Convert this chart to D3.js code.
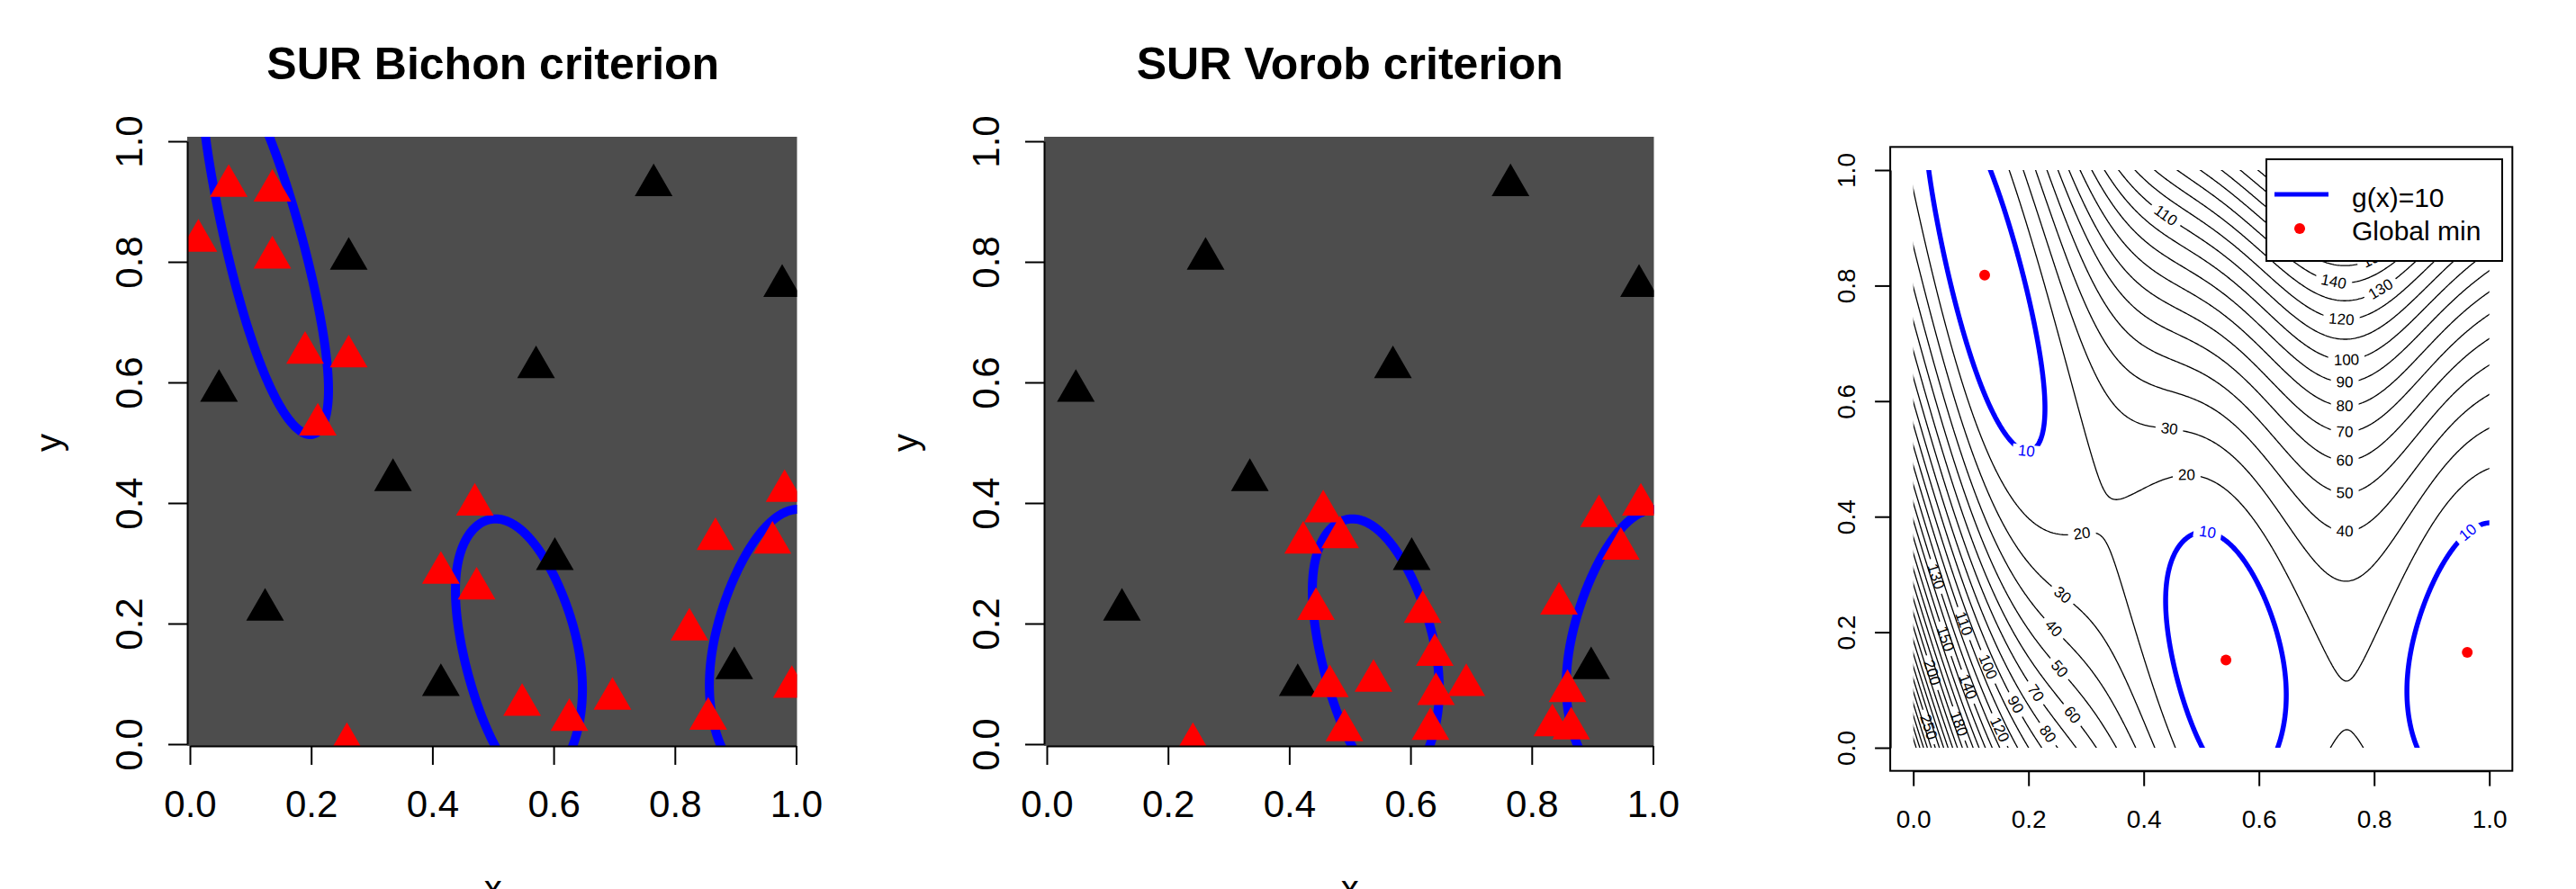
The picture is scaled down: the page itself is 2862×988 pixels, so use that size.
<!DOCTYPE html>
<html>
<head>
<meta charset="utf-8">
<script src="https://cdn.jsdelivr.net/npm/d3@7"></script>
<style>
  body { margin: 0; background: #fff; }
  svg { display: block; font-family: "Liberation Sans", Arial, sans-serif; }
</style>
</head>
<body>
<svg id="chart"></svg>
<script>
const width = 2862;
const height = 988;

// ticks and texts
const unitTicks = [0, 0.2, 0.4, 0.6, 0.8, 1.0];
const panelTitles = ["SUR Bichon criterion", "SUR Vorob criterion"];
const legendLabels = ["g(x)=10", "Global min"];

// initial design (black triangles), same in both panels
const initX = [0.765, 0.262, 0.977, 0.048, 0.571, 0.335, 0.124, 0.602, 0.414, 0.898];
const initY = [0.927, 0.805, 0.760, 0.586, 0.625, 0.438, 0.223, 0.307, 0.098, 0.126];

// points added by SUR Bichon (red)
const bichonX = [0.014, 0.064, 0.136, 0.136, 0.190, 0.262, 0.211, 0.470, 0.414, 0.473,
                 0.867, 0.981, 0.961, 0.824, 0.993, 0.548, 0.626, 0.697, 0.855, 0.259];
const bichonY = [0.835, 0.926, 0.918, 0.807, 0.649, 0.643, 0.530, 0.397, 0.284, 0.258,
                 0.340, 0.420, 0.334, 0.190, 0.095, 0.065, 0.040, 0.075, 0.042, 0.000];

// points added by SUR Vorob (red)
const vorobX = [0.241, 0.456, 0.423, 0.484, 0.444, 0.620, 0.640, 0.467, 0.539, 0.642,
                0.692, 0.491, 0.633, 0.845, 0.859, 0.834, 0.865, 0.911, 0.947, 0.980];
const vorobY = [0.000, 0.386, 0.334, 0.343, 0.224, 0.219, 0.148, 0.096, 0.105, 0.083,
                0.098, 0.023, 0.025, 0.233, 0.088, 0.031, 0.026, 0.378, 0.324, 0.397];

// global minima (red dots)
const minX = [0.1239, 0.5428, 0.9617];
const minY = [0.8183, 0.1517, 0.1650];

// contour levels
const blueLevel = 10;
const blackLevels = [20, 30, 40, 50, 60, 70, 80, 90, 100, 110, 120, 130, 140, 150, 160,
                     170, 180, 190, 200, 210, 220, 230, 240, 250, 260, 270, 280, 290, 300];

// contour labels: level and approximate place
const labelLevels = [10, 10, 10, 20, 20, 30, 40, 50, 60, 70, 80, 90, 100, 110, 120, 130, 140, 150,
                     30, 40, 50, 60, 70, 80, 90, 100, 110, 120, 130, 140, 150, 180, 200, 250];
const labelU = [0.190, 0.510, 0.972, 0.475, 0.293, 0.444, 0.749, 0.749, 0.749, 0.749, 0.749, 0.749, 0.752, 0.436, 0.743, 0.815, 0.729, 0.807,
                0.259, 0.244, 0.254, 0.275, 0.2125, 0.231, 0.176, 0.127, 0.085, 0.147, 0.035, 0.093, 0.054, 0.074, 0.030, 0.033];
const labelV = [0.500, 0.363, 0.357, 0.462, 0.365, 0.547, 0.372, 0.439, 0.495, 0.543, 0.586, 0.628, 0.670, 0.918, 0.739, 0.788, 0.804, 0.837,
                0.264, 0.207, 0.137, 0.056, 0.095, 0.022, 0.074, 0.139, 0.214, 0.030, 0.295, 0.105, 0.188, 0.040, 0.129, 0.038];

// Branin function on the unit square
const brA = 1, brB = 5.1 / (4 * Math.PI * Math.PI), brC = 5 / Math.PI;
const brR = 6, brS = 10, brT = 1 / (8 * Math.PI);
function branin(u, v) {
  const x1 = 15 * u - 5, x2 = 15 * v;
  const q = x2 - brB * x1 * x1 + brC * x1 - brR;
  return brA * q * q + brS * (1 - brT) * Math.cos(x1) + brS;
}

// grid a little larger than [0,1]^2, cut back with clip paths
const step = 0.0025, gridPad = 0.03;
const n = Math.round((1 + 2 * gridPad) / step) + 1;
const grid = new Float64Array(n * n);
const negGrid = new Float64Array(n * n);
for (let j = 0; j < n; j++) {
  for (let i = 0; i < n; i++) {
    const val = branin(-gridPad + i * step, -gridPad + j * step);
    grid[j * n + i] = val;
    negGrid[j * n + i] = -val;
  }
}
const toUnit = c => -gridPad + (c - 0.5) * step;

function gridPath(xs, ys) {
  return d3.geoPath(d3.geoTransform({
    point(cx, cy) { this.stream.point(xs(toUnit(cx)), ys(toUnit(cy))); }
  }));
}

// basins below g = 10
const basins = d3.contours().size([n, n]).thresholds([-blueLevel])(negGrid)[0];
const ringMeanV = ring => toUnit(d3.mean(ring, p => p[1]));
const blackContours = d3.contours().size([n, n]).thresholds(blackLevels)(grid);

// open lines of the g = 10 contour (inside the square, no corner speck)
function inShownArea(u, v) {
  if (u < -0.01 || u > 1.01 || v < -0.01 || v > 1.01) return false;
  return !(u > 0.98 && v < 0.03);
}
function basinLines(keepBasin) {
  const lines = [];
  basins.coordinates.forEach(poly => {
    if (!keepBasin(ringMeanV(poly[0]))) return;
    poly.forEach(ring => {
      let cur = [];
      ring.forEach(pt => {
        if (inShownArea(toUnit(pt[0]), toUnit(pt[1]))) cur.push(pt);
        else { if (cur.length > 1) lines.push(cur); cur = []; }
      });
      if (cur.length > 1) lines.push(cur);
    });
  });
  return { type: "MultiLineString", coordinates: lines };
}

const svg = d3.select("#chart").attr("width", width).attr("height", height);
svg.append("rect").attr("width", width).attr("height", height).attr("fill", "#fff");
const defs = svg.append("defs");

const tri = d3.symbol(d3.symbolTriangle, 761);
const fmt = d3.format(".1f");

function styleAxis(g, fs) {
  g.attr("font-family", null).attr("font-size", null);
  g.select(".domain").attr("stroke", "#000").attr("stroke-width", 2);
  g.selectAll(".tick line").attr("stroke", "#000").attr("stroke-width", 2);
  g.selectAll(".tick text").attr("fill", "#000").attr("font-size", fs);
}

function drawAxes(xs, ys, o) {
  const xa = svg.append("g")
    .attr("transform", `translate(0,${o.xAxisY})`)
    .call(d3.axisBottom(xs).tickValues(unitTicks).tickFormat(fmt).tickSize(o.tick).tickSizeOuter(0));
  styleAxis(xa, o.fs);
  xa.selectAll(".tick text").attr("y", o.xLab).attr("dy", 0);

  const ya = svg.append("g")
    .attr("transform", `translate(${o.yAxisX},0)`)
    .call(d3.axisLeft(ys).tickValues(unitTicks).tickFormat(fmt).tickSize(o.tick).tickSizeOuter(0));
  styleAxis(ya, o.fs);
  ya.selectAll(".tick text")
    .attr("x", 0).attr("y", 0).attr("dy", 0)
    .attr("text-anchor", "middle")
    .attr("transform", `translate(${-o.yLab},0) rotate(-90)`);
}

// ---------- panels 1 and 2 ----------
const ysDesign = d3.scaleLinear().domain([0, 1]).range([827, 157]);
const designPanels = [
  { title: panelTitles[0], xs: d3.scaleLinear().domain([0, 1]).range([211, 884.5]),
    redX: bichonX, redY: bichonY, keep: v => true },
  { title: panelTitles[1], xs: d3.scaleLinear().domain([0, 1]).range([1163, 1836.5]),
    redX: vorobX, redY: vorobY, keep: v => v < 0.5 }
];

designPanels.forEach((p, k) => {
  const xs = p.xs, ys = ysDesign;
  const left = xs(0) - 3, right = xs(1) + 1, top = ys(1) - 5, bottom = ys(0) + 2;

  defs.append("clipPath").attr("id", "clip-design-" + k)
    .append("rect").attr("x", left).attr("y", top)
    .attr("width", right - left).attr("height", bottom - top);

  svg.append("rect")
    .attr("x", left).attr("y", top)
    .attr("width", right - left).attr("height", bottom - top)
    .attr("fill", "#4d4d4d");

  const inner = svg.append("g").attr("clip-path", `url(#clip-design-${k})`);

  inner.append("path")
    .datum(basinLines(p.keep))
    .attr("d", gridPath(xs, ys))
    .attr("fill", "none")
    .attr("stroke", "#0000ff")
    .attr("stroke-width", 10)
    .attr("stroke-linejoin", "round");

  inner.selectAll(".init")
    .data(d3.range(initX.length))
    .join("path")
    .attr("class", "init")
    .attr("transform", i => `translate(${xs(initX[i])},${ys(initY[i])})`)
    .attr("d", tri)
    .attr("fill", "#000");

  inner.selectAll(".added")
    .data(d3.range(p.redX.length))
    .join("path")
    .attr("class", "added")
    .attr("transform", i => `translate(${xs(p.redX[i])},${ys(p.redY[i])})`)
    .attr("d", tri)
    .attr("fill", "#ff0000");

  drawAxes(xs, ys, { xAxisY: bottom, yAxisX: left, tick: 21, fs: 42, xLab: 79, yLab: 50 });

  const cx = (xs(0) + xs(1)) / 2;
  svg.append("text")
    .attr("x", cx).attr("y", 88)
    .attr("text-anchor", "middle")
    .attr("font-size", 50).attr("font-weight", "bold")
    .text(p.title);

  svg.append("text")
    .attr("x", cx).attr("y", 1001)
    .attr("text-anchor", "middle")
    .attr("font-size", 40)
    .text("x");

  svg.append("text")
    .attr("text-anchor", "middle")
    .attr("font-size", 40)
    .attr("transform", `translate(${left - 140},${(ys(0) + ys(1)) / 2}) rotate(-90)`)
    .text("y");
});

// ---------- panel 3: contour plot ----------
const xs3 = d3.scaleLinear().domain([0, 1]).range([2125.7, 2765.7]);
const ys3 = d3.scaleLinear().domain([0, 1]).range([831, 189]);
const sx3 = xs3(1) - xs3(0), sy3 = ys3(0) - ys3(1);
const path3 = gridPath(xs3, ys3);

function gradient(u, v) {
  const h = 1e-5;
  return [(branin(u + h, v) - branin(u - h, v)) / (2 * h),
          (branin(u, v + h) - branin(u, v - h)) / (2 * h)];
}

// put each label back on its line and turn it along the line
const labels = labelLevels.map((level, i) => {
  let u = labelU[i], v = labelV[i];
  for (let k = 0; k < 10; k++) {
    const [fu, fv] = gradient(u, v);
    const d = (branin(u, v) - level) / (fu * fu + fv * fv);
    u -= d * fu; v -= d * fv;
  }
  const [fu, fv] = gradient(u, v);
  let angle = Math.atan2(fu / sx3, fv / sy3) * 180 / Math.PI;
  if (angle > 90) angle -= 180;
  if (angle <= -90) angle += 180;
  return { level, x: xs3(u), y: ys3(v), angle };
});

defs.append("clipPath").attr("id", "clip-contour")
  .append("rect").attr("x", xs3(0)).attr("y", ys3(1))
  .attr("width", sx3).attr("height", sy3);

const contourG = svg.append("g").attr("clip-path", "url(#clip-contour)");
const labelG = svg.append("g");

labelG.selectAll("text")
  .data(labels)
  .join("text")
  .attr("text-anchor", "middle")
  .attr("dominant-baseline", "central")
  .attr("font-size", 17)
  .attr("fill", d => d.level === blueLevel ? "#0000ff" : "#000")
  .attr("transform", d => `translate(${d.x},${d.y}) rotate(${d.angle})`)
  .text(d => d.level)
  .each(function(d) { d.w = this.getComputedTextLength(); });

function gapMask(level) {
  const labs = labels.filter(d => d.level === level);
  if (!labs.length) return null;
  const id = "gap-" + level;
  const m = defs.append("mask").attr("id", id)
    .attr("maskUnits", "userSpaceOnUse")
    .attr("x", 0).attr("y", 0).attr("width", width).attr("height", height);
  m.append("rect").attr("width", width).attr("height", height).attr("fill", "#fff");
  labs.forEach(d => {
    m.append("rect")
      .attr("x", -(d.w + 12) / 2).attr("y", -7)
      .attr("width", d.w + 12).attr("height", 14)
      .attr("fill", "#000")
      .attr("transform", `translate(${d.x},${d.y}) rotate(${d.angle})`);
  });
  return `url(#${id})`;
}

blackContours.forEach(c => {
  contourG.append("path")
    .datum(c)
    .attr("d", path3)
    .attr("fill", "none")
    .attr("stroke", "#000")
    .attr("stroke-width", 1.3)
    .attr("mask", gapMask(c.value));
});

contourG.append("path")
  .datum(basinLines(v => true))
  .attr("d", path3)
  .attr("fill", "none")
  .attr("stroke", "#0000ff")
  .attr("stroke-width", 5.5)
  .attr("stroke-linejoin", "round")
  .attr("mask", gapMask(blueLevel));

labelG.raise();

svg.selectAll(".gmin")
  .data(d3.range(minX.length))
  .join("circle")
  .attr("class", "gmin")
  .attr("cx", i => xs3(minX[i]))
  .attr("cy", i => ys3(minY[i]))
  .attr("r", 6)
  .attr("fill", "#ff0000");

// frame (R adds 4% on each side)
const fx0 = xs3(-0.04), fx1 = xs3(1.04), fy0 = ys3(1.04), fy1 = ys3(-0.04);
svg.append("rect")
  .attr("x", fx0).attr("y", fy0)
  .attr("width", fx1 - fx0).attr("height", fy1 - fy0)
  .attr("fill", "none").attr("stroke", "#000").attr("stroke-width", 2);

drawAxes(xs3, ys3, { xAxisY: fy1, yAxisX: fx0, tick: 17, fs: 28, xLab: 63, yLab: 39 });

// legend
const legend = svg.append("g").attr("transform", "translate(2518,177)");
legend.append("rect")
  .attr("width", 262).attr("height", 113)
  .attr("fill", "#fff").attr("stroke", "#000").attr("stroke-width", 2);
legend.append("line")
  .attr("x1", 9).attr("x2", 69).attr("y1", 39).attr("y2", 39)
  .attr("stroke", "#0000ff").attr("stroke-width", 5);
legend.append("circle")
  .attr("cx", 37).attr("cy", 77).attr("r", 6).attr("fill", "#ff0000");
legend.selectAll(".lt")
  .data(legendLabels)
  .join("text")
  .attr("class", "lt")
  .attr("x", 95)
  .attr("y", (d, i) => 53 + i * 37)
  .attr("font-size", 30)
  .text(d => d);
</script>
</body>
</html>
